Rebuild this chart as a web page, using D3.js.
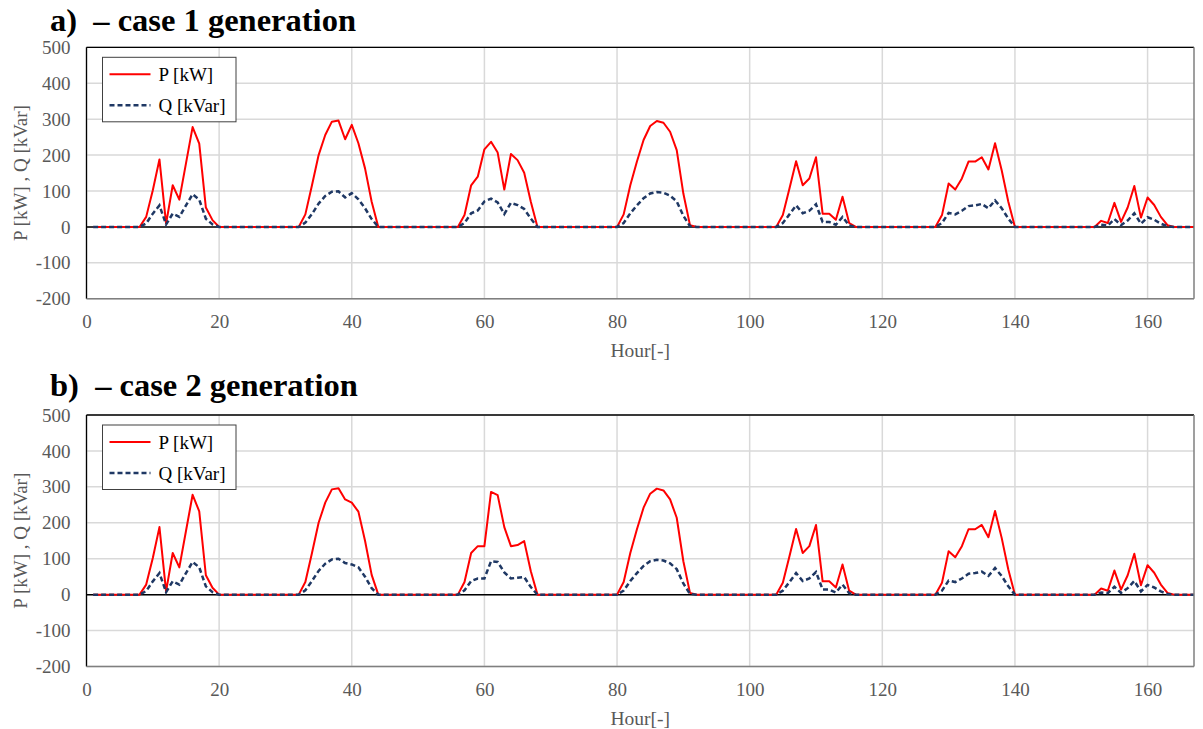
<!DOCTYPE html>
<html>
<head>
<meta charset="utf-8">
<script src="https://cdn.jsdelivr.net/npm/d3@7"></script>
<style>
  body { margin: 0; background: #fff; }
  text { font-family: "Liberation Serif", "Times New Roman", serif; }
</style>
</head>
<body>
<div id="chart"></div>
<script>
// 时间轴（小时）
const hours = d3.range(1, 168);
// 每天发电开始前的小时（夜间为 0）
const dayStart = [8, 32, 56, 80, 104, 128, 152];

// 刻度
const xTicks = [0, 20, 40, 60, 80, 100, 120, 140, 160];
const yTicks = [-200, -100, 0, 100, 200, 300, 400, 500];

// case 1 白天数据（每天 11 个小时）
const pCase1 = [
    [28, 102, 188, 9, 116, 76, 177, 278, 232, 54, 19],
    [35, 116, 200, 256, 293, 296, 244, 284, 233, 163, 70],
    [33, 116, 140, 216, 237, 207, 104, 203, 186, 151, 70],
    [35, 116, 182, 242, 281, 295, 290, 265, 214, 93, 5],
    [33, 107, 183, 116, 135, 194, 37, 37, 20, 84, 11],
    [33, 121, 104, 135, 182, 182, 194, 160, 233, 158, 70],
    [17, 11, 67, 14, 54, 114, 26, 82, 61, 28, 5]
];
const qCase1 = [
    [10, 37, 60, 7, 37, 28, 60, 91, 76, 23, 7],
    [12, 36, 65, 86, 98, 99, 82, 94, 77, 52, 22],
    [11, 38, 46, 71, 79, 68, 36, 67, 61, 50, 23],
    [11, 38, 60, 80, 93, 97, 95, 87, 71, 31, 2],
    [11, 35, 60, 38, 45, 63, 14, 14, 6, 28, 4],
    [11, 39, 35, 45, 58, 60, 64, 52, 74, 52, 23],
    [6, 4, 22, 5, 18, 38, 9, 27, 20, 9, 2]
];

// case 2 白天数据
const pCase2 = [
    [28, 102, 188, 9, 116, 76, 177, 278, 232, 54, 19],
    [35, 116, 200, 256, 293, 296, 265, 256, 231, 150, 55],
    [35, 116, 135, 135, 286, 277, 188, 135, 138, 149, 65],
    [35, 116, 182, 242, 281, 295, 290, 265, 214, 93, 5],
    [33, 107, 183, 116, 135, 194, 37, 37, 20, 84, 11],
    [33, 121, 104, 135, 182, 182, 194, 160, 233, 158, 70],
    [17, 11, 67, 14, 54, 114, 26, 82, 61, 28, 5]
];
const qCase2 = [
    [10, 37, 60, 7, 37, 28, 60, 91, 76, 23, 7],
    [12, 38, 66, 86, 98, 100, 88, 84, 76, 50, 18],
    [12, 38, 45, 45, 93, 91, 62, 45, 47, 49, 21],
    [11, 38, 60, 80, 93, 97, 95, 87, 71, 31, 2],
    [11, 35, 60, 38, 45, 63, 14, 14, 6, 28, 4],
    [11, 39, 35, 45, 58, 60, 64, 52, 74, 52, 23],
    [6, 4, 22, 5, 18, 38, 9, 27, 20, 9, 2]
];

// 把白天数据放回 167 小时序列，夜间为 0
function expandDays(days) {
    return hours.map(h => {
        const d = dayStart.findIndex(s => h > s && h < s + 12);
        return d < 0 ? 0 : days[d][h - dayStart[d] - 1];
    });
}

function createChart() {
    const W = 1203, H = 729;
    const left = 86.5, right = 1194, plotH = 251.5;

    const panels = [
        { title: 'a)  \u2013 case 1 generation', p: expandDays(pCase1), q: expandDays(qCase1), top: 47.3, titleY: 31 },
        { title: 'b)  \u2013 case 2 generation', p: expandDays(pCase2), q: expandDays(qCase2), top: 415, titleY: 396 }
    ];

    const svg = d3.select('#chart').append('svg')
        .attr('width', W)
        .attr('height', H);

    const x = d3.scaleLinear().domain([0, 167]).range([left, right]);

    panels.forEach(panel => {
        const top = panel.top, bottom = top + plotH;
        const y = d3.scaleLinear().domain([-200, 500]).range([bottom, top]);
        const g = svg.append('g');

        // 标题
        g.append('text')
            .attr('x', 50)
            .attr('y', panel.titleY)
            .style('white-space', 'pre')
            .style('font-size', '32.5px')
            .style('font-weight', 'bold')
            .attr('fill', '#000')
            .text(panel.title);

        // 网格线
        g.append('g').selectAll('line.vg')
            .data(xTicks)
            .join('line')
            .attr('x1', d => x(d)).attr('x2', d => x(d))
            .attr('y1', top).attr('y2', bottom)
            .attr('stroke', '#d9d9d9').attr('stroke-width', 1.5);
        g.append('g').selectAll('line.hg')
            .data(yTicks)
            .join('line')
            .attr('x1', left).attr('x2', right)
            .attr('y1', d => y(d)).attr('y2', d => y(d))
            .attr('stroke', '#d9d9d9').attr('stroke-width', 1.5);

        // 零线
        g.append('line')
            .attr('x1', left).attr('x2', right)
            .attr('y1', y(0)).attr('y2', y(0))
            .attr('stroke', '#000').attr('stroke-width', 1.5);

        // 坐标轴（负号用普通连字符）
        const xAxis = g.append('g')
            .attr('transform', `translate(0,${bottom})`)
            .call(d3.axisBottom(x).tickValues(xTicks).tickFormat(d => String(d)).tickSize(0).tickPadding(16));
        const yAxis = g.append('g')
            .attr('transform', `translate(${left},0)`)
            .call(d3.axisLeft(y).tickValues(yTicks).tickFormat(d => String(d)).tickSize(0).tickPadding(16));
        [xAxis, yAxis].forEach(a => {
            a.select('.domain').remove();
            a.attr('font-family', null).attr('font-size', null);
            a.selectAll('text').attr('fill', '#595959').style('font-size', '19px');
        });

        // 轴标题
        g.append('text')
            .attr('x', (left + right) / 2)
            .attr('y', bottom + 58)
            .attr('text-anchor', 'middle')
            .attr('fill', '#595959')
            .style('font-size', '19.5px')
            .text('Hour[-]');
        g.append('text')
            .attr('transform', `translate(27,${(top + bottom) / 2}) rotate(-90)`)
            .attr('text-anchor', 'middle')
            .attr('fill', '#595959')
            .style('font-size', '19px')
            .text('P [kW] , Q [kVar]');

        // 曲线
        const line = d3.line()
            .x((d, i) => x(hours[i]))
            .y(d => y(d));
        g.append('path')
            .datum(panel.p)
            .attr('fill', 'none')
            .attr('stroke', '#ff0000')
            .attr('stroke-width', 2)
            .attr('stroke-linejoin', 'round')
            .attr('d', line);
        g.append('path')
            .datum(panel.q)
            .attr('fill', 'none')
            .attr('stroke', '#1f3864')
            .attr('stroke-width', 2.5)
            .attr('stroke-dasharray', '5,3')
            .attr('d', line);

        // 边框
        g.append('line').attr('x1', left).attr('x2', right).attr('y1', top).attr('y2', top)
            .attr('stroke', '#000').attr('stroke-width', 1.3);
        g.append('line').attr('x1', left).attr('x2', left).attr('y1', top).attr('y2', bottom)
            .attr('stroke', '#000').attr('stroke-width', 1.3);
        g.append('line').attr('x1', right).attr('x2', right).attr('y1', top).attr('y2', bottom)
            .attr('stroke', '#7f7f7f').attr('stroke-width', 1.5);
        g.append('line').attr('x1', left).attr('x2', right).attr('y1', bottom).attr('y2', bottom)
            .attr('stroke', '#7f7f7f').attr('stroke-width', 1.5);

        // 图例
        const lg = g.append('g').attr('transform', `translate(102.5,${top + 10})`);
        lg.append('rect')
            .attr('width', 133.5).attr('height', 64.5)
            .attr('fill', '#fff').attr('stroke', '#404040').attr('stroke-width', 1);
        const items = [
            { label: 'P [kW]', color: '#ff0000', dash: null, w: 2 },
            { label: 'Q [kVar]', color: '#1f3864', dash: '5,3', w: 2.5 }
        ];
        items.forEach((it, i) => {
            const cy = 17 + i * 31;
            lg.append('line')
                .attr('x1', 7).attr('x2', 48)
                .attr('y1', cy).attr('y2', cy)
                .attr('stroke', it.color).attr('stroke-width', it.w)
                .attr('stroke-dasharray', it.dash);
            lg.append('text')
                .attr('x', 56).attr('y', cy)
                .attr('dy', '0.35em')
                .attr('fill', '#000')
                .style('font-size', '19px')
                .text(it.label);
        });
    });
}

document.addEventListener('DOMContentLoaded', createChart);
</script>
</body>
</html>
